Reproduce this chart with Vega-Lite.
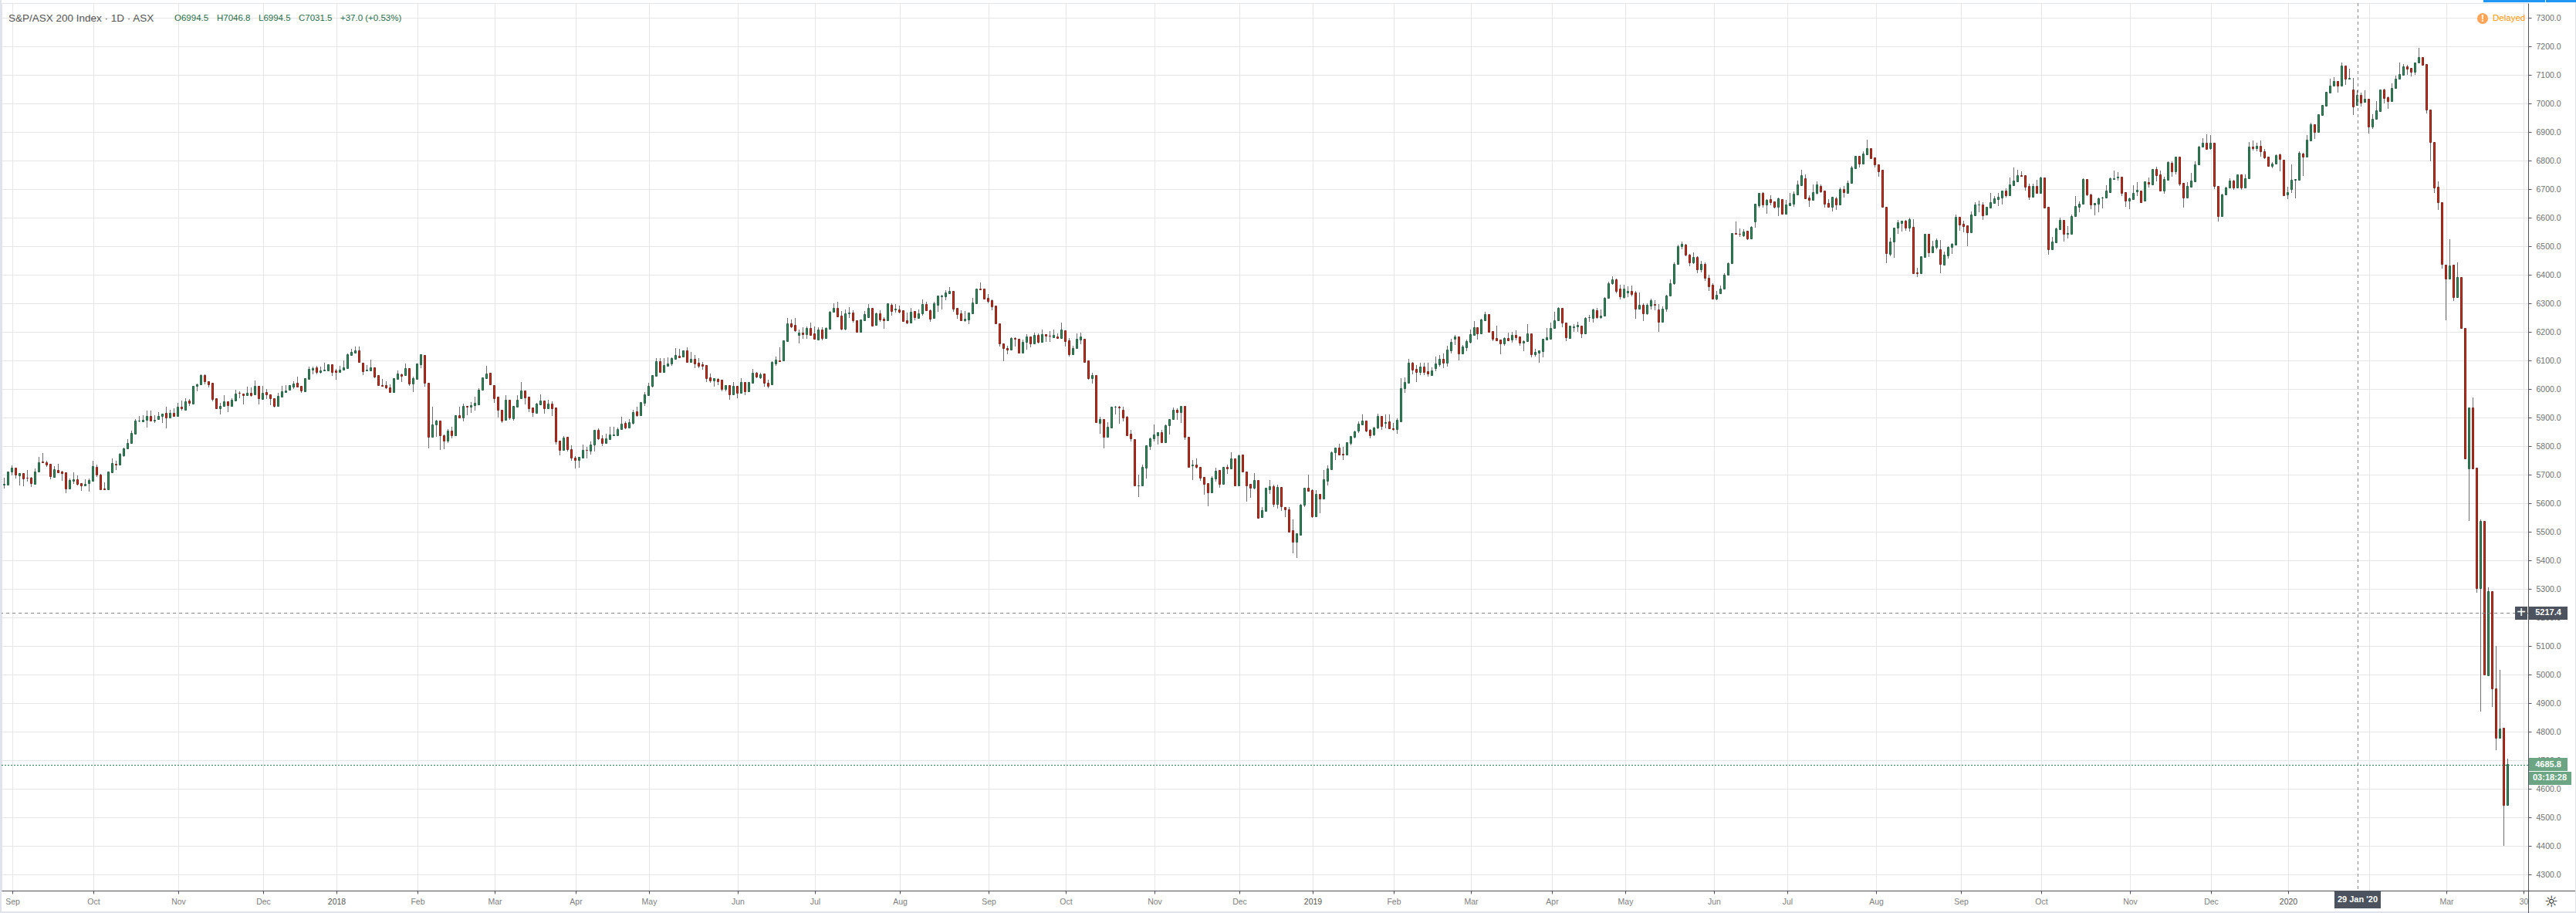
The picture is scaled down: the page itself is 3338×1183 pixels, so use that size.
{"$schema":"https://vega.github.io/schema/vega-lite/v6.json","autosize":{"type":"none"},"padding":{"left":2,"top":4,"right":62,"bottom":29},"width":3274,"height":1150,"background":"#ffffff","view":{"stroke":"#e0e3eb","fill":"#ffffff"},
"datasets":{"bars":[
{"i":0,"o":5667,"h":5690,"l":5653,"c":5668},{"i":1,"o":5667,"h":5713,"l":5667,"c":5713},{"i":2,"o":5712,"h":5733,"l":5697,"c":5724},{"i":3,"o":5724,"h":5724,"l":5687,"c":5702},{"i":4,"o":5699,"h":5705,"l":5663,"c":5705},{"i":5,"o":5705,"h":5705,"l":5660,"c":5688},{"i":6,"o":5690,"h":5717,"l":5677,"c":5689},{"i":7,"o":5689,"h":5692,"l":5658,"c":5672},{"i":8,"o":5669,"h":5722,"l":5667,"c":5712},{"i":9,"o":5711,"h":5763,"l":5711,"c":5743},
{"i":10,"o":5746,"h":5776,"l":5743,"c":5743},{"i":11,"o":5743,"h":5749,"l":5727,"c":5737},{"i":12,"o":5738,"h":5738,"l":5685,"c":5695},{"i":13,"o":5694,"h":5730,"l":5691,"c":5719},{"i":14,"o":5718,"h":5740,"l":5710,"c":5710},{"i":15,"o":5713,"h":5715,"l":5680,"c":5707},{"i":16,"o":5708,"h":5708,"l":5637,"c":5653},{"i":17,"o":5653,"h":5687,"l":5653,"c":5681},{"i":18,"o":5680,"h":5709,"l":5669,"c":5684},{"i":19,"o":5684,"h":5698,"l":5664,"c":5669},
{"i":20,"o":5670,"h":5670,"l":5645,"c":5664},{"i":21,"o":5662,"h":5685,"l":5661,"c":5668},{"i":22,"o":5670,"h":5687,"l":5642,"c":5681},{"i":23,"o":5680,"h":5749,"l":5677,"c":5730},{"i":24,"o":5727,"h":5736,"l":5692,"c":5700},{"i":25,"o":5700,"h":5703,"l":5650,"c":5650},{"i":26,"o":5651,"h":5674,"l":5649,"c":5650},{"i":27,"o":5650,"h":5712,"l":5650,"c":5711},{"i":28,"o":5710,"h":5757,"l":5707,"c":5741},{"i":29,"o":5738,"h":5750,"l":5717,"c":5737},
{"i":30,"o":5737,"h":5777,"l":5735,"c":5773},{"i":31,"o":5769,"h":5795,"l":5763,"c":5792},{"i":32,"o":5793,"h":5825,"l":5791,"c":5813},{"i":33,"o":5813,"h":5854,"l":5811,"c":5846},{"i":34,"o":5845,"h":5895,"l":5845,"c":5889},{"i":35,"o":5889,"h":5906,"l":5885,"c":5890},{"i":36,"o":5888,"h":5909,"l":5884,"c":5894},{"i":37,"o":5894,"h":5925,"l":5867,"c":5905},{"i":38,"o":5905,"h":5925,"l":5891,"c":5891},{"i":39,"o":5891,"h":5909,"l":5883,"c":5894},
{"i":40,"o":5896,"h":5920,"l":5894,"c":5905},{"i":41,"o":5905,"h":5915,"l":5882,"c":5915},{"i":42,"o":5916,"h":5939,"l":5862,"c":5902},{"i":43,"o":5902,"h":5927,"l":5902,"c":5918},{"i":44,"o":5918,"h":5932,"l":5905,"c":5907},{"i":45,"o":5907,"h":5952,"l":5905,"c":5938},{"i":46,"o":5938,"h":5960,"l":5926,"c":5932},{"i":47,"o":5929,"h":5968,"l":5929,"c":5957},{"i":48,"o":5959,"h":5965,"l":5942,"c":5953},{"i":49,"o":5950,"h":6013,"l":5950,"c":6011},
{"i":50,"o":6013,"h":6021,"l":5994,"c":6016},{"i":51,"o":6016,"h":6052,"l":6016,"c":6050},{"i":52,"o":6050,"h":6052,"l":6018,"c":6029},{"i":53,"o":6027,"h":6028,"l":6007,"c":6018},{"i":54,"o":6022,"h":6022,"l":5957,"c":5967},{"i":55,"o":5968,"h":5968,"l":5931,"c":5932},{"i":56,"o":5932,"h":5952,"l":5913,"c":5941},{"i":57,"o":5942,"h":5979,"l":5942,"c":5957},{"i":58,"o":5957,"h":5957,"l":5920,"c":5945},{"i":59,"o":5942,"h":5968,"l":5942,"c":5962},
{"i":60,"o":5961,"h":5998,"l":5960,"c":5984},{"i":61,"o":5987,"h":5992,"l":5968,"c":5986},{"i":62,"o":5984,"h":5984,"l":5947,"c":5980},{"i":63,"o":5979,"h":6009,"l":5977,"c":5987},{"i":64,"o":5987,"h":6005,"l":5974,"c":5980},{"i":65,"o":5983,"h":6030,"l":5983,"c":6011},{"i":66,"o":6011,"h":6011,"l":5947,"c":5969},{"i":67,"o":5967,"h":6012,"l":5967,"c":5987},{"i":68,"o":5989,"h":6000,"l":5967,"c":5983},{"i":69,"o":5983,"h":5983,"l":5943,"c":5969},
{"i":70,"o":5969,"h":5969,"l":5936,"c":5941},{"i":71,"o":5942,"h":5987,"l":5942,"c":5976},{"i":72,"o":5975,"h":6011,"l":5975,"c":5992},{"i":73,"o":5989,"h":6014,"l":5988,"c":5995},{"i":74,"o":5997,"h":6014,"l":5996,"c":6014},{"i":75,"o":6010,"h":6027,"l":6001,"c":6019},{"i":76,"o":6022,"h":6043,"l":6010,"c":6010},{"i":77,"o":6011,"h":6011,"l":5987,"c":5995},{"i":78,"o":5994,"h":6040,"l":5994,"c":6039},{"i":79,"o":6037,"h":6078,"l":6037,"c":6070},
{"i":80,"o":6069,"h":6080,"l":6052,"c":6073},{"i":81,"o":6076,"h":6082,"l":6052,"c":6059},{"i":82,"o":6059,"h":6080,"l":6056,"c":6067},{"i":83,"o":6067,"h":6092,"l":6066,"c":6068},{"i":84,"o":6066,"h":6087,"l":6065,"c":6086},{"i":85,"o":6086,"h":6088,"l":6047,"c":6060},{"i":86,"o":6065,"h":6072,"l":6034,"c":6060},{"i":87,"o":6059,"h":6082,"l":6059,"c":6068},{"i":88,"o":6069,"h":6100,"l":6068,"c":6076},{"i":89,"o":6075,"h":6124,"l":6074,"c":6122},
{"i":90,"o":6121,"h":6141,"l":6118,"c":6130},{"i":91,"o":6129,"h":6149,"l":6129,"c":6135},{"i":92,"o":6135,"h":6149,"l":6094,"c":6096},{"i":93,"o":6094,"h":6094,"l":6050,"c":6064},{"i":94,"o":6066,"h":6084,"l":6064,"c":6069},{"i":95,"o":6067,"h":6104,"l":6066,"c":6076},{"i":96,"o":6076,"h":6076,"l":6039,"c":6045},{"i":97,"o":6049,"h":6049,"l":6013,"c":6015},{"i":98,"o":6014,"h":6037,"l":6011,"c":6013},{"i":99,"o":6014,"h":6027,"l":6000,"c":6005},
{"i":100,"o":6006,"h":6016,"l":5988,"c":5991},{"i":101,"o":5991,"h":6039,"l":5991,"c":6038},{"i":102,"o":6035,"h":6066,"l":6035,"c":6054},{"i":103,"o":6053,"h":6055,"l":6026,"c":6048},{"i":104,"o":6049,"h":6090,"l":6049,"c":6073},{"i":105,"o":6073,"h":6073,"l":6013,"c":6021},{"i":106,"o":6021,"h":6043,"l":5991,"c":6038},{"i":107,"o":6037,"h":6090,"l":6036,"c":6089},{"i":108,"o":6088,"h":6122,"l":6075,"c":6122},{"i":109,"o":6119,"h":6119,"l":6008,"c":6023},
{"i":110,"o":6023,"h":6023,"l":5794,"c":5832},{"i":111,"o":5832,"h":5940,"l":5832,"c":5876},{"i":112,"o":5876,"h":5893,"l":5833,"c":5890},{"i":113,"o":5889,"h":5889,"l":5786,"c":5838},{"i":114,"o":5839,"h":5842,"l":5791,"c":5821},{"i":115,"o":5819,"h":5860,"l":5813,"c":5854},{"i":116,"o":5854,"h":5868,"l":5829,"c":5839},{"i":117,"o":5840,"h":5910,"l":5838,"c":5908},{"i":118,"o":5908,"h":5938,"l":5902,"c":5902},{"i":119,"o":5902,"h":5949,"l":5888,"c":5941},
{"i":120,"o":5941,"h":5941,"l":5910,"c":5940},{"i":121,"o":5940,"h":5955,"l":5917,"c":5943},{"i":122,"o":5943,"h":5973,"l":5925,"c":5951},{"i":123,"o":5948,"h":6003,"l":5948,"c":5998},{"i":124,"o":5997,"h":6041,"l":5997,"c":6041},{"i":125,"o":6040,"h":6081,"l":6040,"c":6055},{"i":126,"o":6057,"h":6057,"l":6014,"c":6016},{"i":127,"o":6014,"h":6014,"l":5953,"c":5969},{"i":128,"o":5973,"h":5973,"l":5901,"c":5929},{"i":129,"o":5927,"h":5927,"l":5883,"c":5890},
{"i":130,"o":5894,"h":5979,"l":5894,"c":5962},{"i":131,"o":5962,"h":5962,"l":5894,"c":5901},{"i":132,"o":5899,"h":5941,"l":5891,"c":5941},{"i":133,"o":5940,"h":5979,"l":5940,"c":5962},{"i":134,"o":5969,"h":6025,"l":5969,"c":5995},{"i":135,"o":5995,"h":5995,"l":5948,"c":5972},{"i":136,"o":5973,"h":5973,"l":5921,"c":5932},{"i":137,"o":5935,"h":5935,"l":5904,"c":5920},{"i":138,"o":5918,"h":5951,"l":5918,"c":5949},{"i":139,"o":5948,"h":5982,"l":5948,"c":5959},
{"i":140,"o":5959,"h":5959,"l":5914,"c":5934},{"i":141,"o":5934,"h":5963,"l":5934,"c":5949},{"i":142,"o":5949,"h":5957,"l":5906,"c":5934},{"i":143,"o":5935,"h":5935,"l":5805,"c":5818},{"i":144,"o":5819,"h":5819,"l":5769,"c":5788},{"i":145,"o":5788,"h":5835,"l":5788,"c":5830},{"i":146,"o":5832,"h":5832,"l":5781,"c":5789},{"i":147,"o":5789,"h":5803,"l":5750,"c":5759},{"i":148,"o":5760,"h":5765,"l":5723,"c":5751},{"i":149,"o":5751,"h":5762,"l":5726,"c":5762},
{"i":150,"o":5760,"h":5805,"l":5760,"c":5786},{"i":151,"o":5787,"h":5797,"l":5758,"c":5786},{"i":152,"o":5785,"h":5817,"l":5770,"c":5805},{"i":153,"o":5807,"h":5857,"l":5782,"c":5857},{"i":154,"o":5857,"h":5862,"l":5823,"c":5829},{"i":155,"o":5827,"h":5838,"l":5801,"c":5813},{"i":156,"o":5813,"h":5843,"l":5812,"c":5827},{"i":157,"o":5826,"h":5869,"l":5826,"c":5841},{"i":158,"o":5840,"h":5869,"l":5839,"c":5841},{"i":159,"o":5840,"h":5867,"l":5840,"c":5859},
{"i":160,"o":5859,"h":5904,"l":5859,"c":5878},{"i":161,"o":5881,"h":5887,"l":5861,"c":5866},{"i":162,"o":5867,"h":5896,"l":5867,"c":5884},{"i":163,"o":5883,"h":5928,"l":5877,"c":5919},{"i":164,"o":5922,"h":5939,"l":5904,"c":5910},{"i":165,"o":5910,"h":5954,"l":5905,"c":5954},{"i":166,"o":5951,"h":5989,"l":5942,"c":5981},{"i":167,"o":5979,"h":6023,"l":5977,"c":6013},{"i":168,"o":6013,"h":6049,"l":6007,"c":6049},{"i":169,"o":6048,"h":6109,"l":6048,"c":6097},
{"i":170,"o":6097,"h":6109,"l":6059,"c":6061},{"i":171,"o":6061,"h":6109,"l":6061,"c":6084},{"i":172,"o":6083,"h":6112,"l":6083,"c":6091},{"i":173,"o":6091,"h":6113,"l":6083,"c":6108},{"i":174,"o":6107,"h":6144,"l":6105,"c":6119},{"i":175,"o":6116,"h":6141,"l":6113,"c":6113},{"i":176,"o":6115,"h":6135,"l":6115,"c":6135},{"i":177,"o":6135,"h":6146,"l":6096,"c":6096},{"i":178,"o":6095,"h":6130,"l":6095,"c":6105},{"i":179,"o":6105,"h":6120,"l":6074,"c":6090},
{"i":180,"o":6092,"h":6108,"l":6074,"c":6083},{"i":181,"o":6086,"h":6095,"l":6068,"c":6083},{"i":182,"o":6084,"h":6084,"l":6025,"c":6039},{"i":183,"o":6041,"h":6055,"l":6023,"c":6031},{"i":184,"o":6031,"h":6038,"l":6010,"c":6038},{"i":185,"o":6035,"h":6039,"l":6015,"c":6029},{"i":186,"o":6032,"h":6032,"l":5994,"c":6001},{"i":187,"o":6001,"h":6014,"l":5994,"c":6014},{"i":188,"o":6014,"h":6014,"l":5964,"c":5983},{"i":189,"o":5983,"h":6025,"l":5983,"c":6011},
{"i":190,"o":6011,"h":6011,"l":5969,"c":5987},{"i":191,"o":5988,"h":6039,"l":5988,"c":6024},{"i":192,"o":6024,"h":6024,"l":5979,"c":5993},{"i":193,"o":5993,"h":6024,"l":5990,"c":6024},{"i":194,"o":6023,"h":6070,"l":6023,"c":6057},{"i":195,"o":6057,"h":6059,"l":6039,"c":6044},{"i":196,"o":6041,"h":6057,"l":6036,"c":6051},{"i":197,"o":6054,"h":6054,"l":6009,"c":6023},{"i":198,"o":6022,"h":6032,"l":6004,"c":6013},{"i":199,"o":6016,"h":6097,"l":6016,"c":6095},
{"i":200,"o":6091,"h":6114,"l":6083,"c":6103},{"i":201,"o":6102,"h":6147,"l":6099,"c":6099},{"i":202,"o":6100,"h":6170,"l":6100,"c":6170},{"i":203,"o":6169,"h":6249,"l":6169,"c":6230},{"i":204,"o":6230,"h":6244,"l":6215,"c":6221},{"i":205,"o":6224,"h":6249,"l":6202,"c":6207},{"i":206,"o":6191,"h":6209,"l":6159,"c":6197},{"i":207,"o":6197,"h":6217,"l":6177,"c":6194},{"i":208,"o":6194,"h":6219,"l":6177,"c":6214},{"i":209,"o":6214,"h":6233,"l":6191,"c":6191},
{"i":210,"o":6195,"h":6220,"l":6177,"c":6177},{"i":211,"o":6175,"h":6217,"l":6175,"c":6208},{"i":212,"o":6208,"h":6216,"l":6172,"c":6180},{"i":213,"o":6180,"h":6216,"l":6177,"c":6214},{"i":214,"o":6213,"h":6274,"l":6213,"c":6271},{"i":215,"o":6270,"h":6300,"l":6270,"c":6284},{"i":216,"o":6284,"h":6306,"l":6256,"c":6256},{"i":217,"o":6257,"h":6273,"l":6207,"c":6213},{"i":218,"o":6213,"h":6279,"l":6207,"c":6265},{"i":219,"o":6267,"h":6287,"l":6250,"c":6268},
{"i":220,"o":6268,"h":6276,"l":6234,"c":6241},{"i":221,"o":6241,"h":6241,"l":6199,"c":6201},{"i":222,"o":6202,"h":6243,"l":6202,"c":6243},{"i":223,"o":6242,"h":6273,"l":6242,"c":6262},{"i":224,"o":6253,"h":6298,"l":6253,"c":6284},{"i":225,"o":6284,"h":6284,"l":6220,"c":6222},{"i":226,"o":6226,"h":6268,"l":6226,"c":6266},{"i":227,"o":6266,"h":6277,"l":6236,"c":6245},{"i":228,"o":6246,"h":6252,"l":6212,"c":6242},{"i":229,"o":6242,"h":6300,"l":6242,"c":6300},
{"i":230,"o":6296,"h":6300,"l":6258,"c":6275},{"i":231,"o":6278,"h":6298,"l":6268,"c":6281},{"i":232,"o":6278,"h":6293,"l":6266,"c":6272},{"i":233,"o":6276,"h":6276,"l":6236,"c":6239},{"i":234,"o":6241,"h":6268,"l":6228,"c":6234},{"i":235,"o":6232,"h":6284,"l":6232,"c":6270},{"i":236,"o":6273,"h":6273,"l":6241,"c":6253},{"i":237,"o":6250,"h":6279,"l":6250,"c":6265},{"i":238,"o":6267,"h":6314,"l":6258,"c":6297},{"i":239,"o":6297,"h":6306,"l":6275,"c":6277},
{"i":240,"o":6277,"h":6279,"l":6236,"c":6248},{"i":241,"o":6250,"h":6306,"l":6248,"c":6300},{"i":242,"o":6296,"h":6329,"l":6271,"c":6327},{"i":243,"o":6326,"h":6331,"l":6280,"c":6327},{"i":244,"o":6326,"h":6347,"l":6313,"c":6338},{"i":245,"o":6337,"h":6358,"l":6337,"c":6343},{"i":246,"o":6343,"h":6343,"l":6271,"c":6283},{"i":247,"o":6284,"h":6284,"l":6248,"c":6264},{"i":248,"o":6266,"h":6277,"l":6242,"c":6242},{"i":249,"o":6242,"h":6274,"l":6237,"c":6246},
{"i":250,"o":6245,"h":6269,"l":6228,"c":6268},{"i":251,"o":6267,"h":6319,"l":6267,"c":6303},{"i":252,"o":6302,"h":6351,"l":6302,"c":6351},{"i":253,"o":6351,"h":6374,"l":6349,"c":6350},{"i":254,"o":6352,"h":6353,"l":6318,"c":6318},{"i":255,"o":6319,"h":6332,"l":6300,"c":6310},{"i":256,"o":6311,"h":6314,"l":6276,"c":6291},{"i":257,"o":6292,"h":6292,"l":6229,"c":6230},{"i":258,"o":6230,"h":6230,"l":6150,"c":6159},{"i":259,"o":6159,"h":6159,"l":6099,"c":6143},
{"i":260,"o":6143,"h":6153,"l":6122,"c":6140},{"i":261,"o":6140,"h":6181,"l":6138,"c":6178},{"i":262,"o":6178,"h":6181,"l":6150,"c":6176},{"i":263,"o":6176,"h":6176,"l":6127,"c":6129},{"i":264,"o":6127,"h":6174,"l":6127,"c":6165},{"i":265,"o":6165,"h":6192,"l":6140,"c":6184},{"i":266,"o":6184,"h":6184,"l":6148,"c":6159},{"i":267,"o":6159,"h":6198,"l":6159,"c":6189},{"i":268,"o":6189,"h":6195,"l":6161,"c":6167},{"i":269,"o":6167,"h":6208,"l":6167,"c":6192},
{"i":270,"o":6194,"h":6194,"l":6167,"c":6186},{"i":271,"o":6187,"h":6203,"l":6167,"c":6186},{"i":272,"o":6183,"h":6208,"l":6181,"c":6189},{"i":273,"o":6184,"h":6195,"l":6178,"c":6180},{"i":274,"o":6180,"h":6233,"l":6177,"c":6208},{"i":275,"o":6205,"h":6205,"l":6150,"c":6169},{"i":276,"o":6170,"h":6178,"l":6115,"c":6123},{"i":277,"o":6123,"h":6151,"l":6123,"c":6143},{"i":278,"o":6145,"h":6195,"l":6145,"c":6176},{"i":279,"o":6175,"h":6198,"l":6158,"c":6184},
{"i":280,"o":6176,"h":6176,"l":6096,"c":6096},{"i":281,"o":6100,"h":6100,"l":6032,"c":6040},{"i":282,"o":6040,"h":6057,"l":6021,"c":6049},{"i":283,"o":6049,"h":6049,"l":5884,"c":5884},{"i":284,"o":5883,"h":5903,"l":5845,"c":5895},{"i":285,"o":5895,"h":5895,"l":5794,"c":5834},{"i":286,"o":5834,"h":5885,"l":5834,"c":5868},{"i":287,"o":5867,"h":5938,"l":5867,"c":5938},{"i":288,"o":5939,"h":5942,"l":5913,"c":5940},{"i":289,"o":5940,"h":5942,"l":5879,"c":5937},
{"i":290,"o":5927,"h":5939,"l":5886,"c":5902},{"i":291,"o":5903,"h":5905,"l":5840,"c":5840},{"i":292,"o":5843,"h":5857,"l":5817,"c":5829},{"i":293,"o":5826,"h":5826,"l":5662,"c":5662},{"i":294,"o":5662,"h":5701,"l":5623,"c":5663},{"i":295,"o":5663,"h":5736,"l":5663,"c":5727},{"i":296,"o":5726,"h":5803,"l":5687,"c":5803},{"i":297,"o":5802,"h":5830,"l":5788,"c":5827},{"i":298,"o":5829,"h":5877,"l":5817,"c":5841},{"i":299,"o":5840,"h":5849,"l":5807,"c":5849},
{"i":300,"o":5849,"h":5857,"l":5815,"c":5815},{"i":301,"o":5815,"h":5876,"l":5815,"c":5873},{"i":302,"o":5873,"h":5895,"l":5842,"c":5895},{"i":303,"o":5895,"h":5935,"l":5895,"c":5927},{"i":304,"o":5927,"h":5933,"l":5893,"c":5921},{"i":305,"o":5921,"h":5941,"l":5882,"c":5941},{"i":306,"o":5941,"h":5941,"l":5823,"c":5832},{"i":307,"o":5832,"h":5832,"l":5726,"c":5728},{"i":308,"o":5732,"h":5752,"l":5682,"c":5735},{"i":309,"o":5735,"h":5758,"l":5723,"c":5729},
{"i":310,"o":5729,"h":5729,"l":5679,"c":5691},{"i":311,"o":5692,"h":5692,"l":5631,"c":5669},{"i":312,"o":5670,"h":5670,"l":5591,"c":5640},{"i":313,"o":5640,"h":5695,"l":5640,"c":5689},{"i":314,"o":5687,"h":5725,"l":5677,"c":5714},{"i":315,"o":5716,"h":5716,"l":5655,"c":5669},{"i":316,"o":5669,"h":5727,"l":5669,"c":5727},{"i":317,"o":5727,"h":5736,"l":5704,"c":5723},{"i":318,"o":5723,"h":5779,"l":5723,"c":5757},{"i":319,"o":5757,"h":5757,"l":5664,"c":5664},
{"i":320,"o":5664,"h":5771,"l":5664,"c":5768},{"i":321,"o":5770,"h":5770,"l":5713,"c":5713},{"i":322,"o":5711,"h":5711,"l":5606,"c":5664},{"i":323,"o":5668,"h":5668,"l":5620,"c":5656},{"i":324,"o":5655,"h":5706,"l":5650,"c":5681},{"i":325,"o":5681,"h":5681,"l":5548,"c":5550},{"i":326,"o":5552,"h":5587,"l":5550,"c":5576},{"i":327,"o":5575,"h":5654,"l":5575,"c":5654},{"i":328,"o":5650,"h":5682,"l":5633,"c":5659},{"i":329,"o":5659,"h":5665,"l":5588,"c":5599},
{"i":330,"o":5599,"h":5665,"l":5582,"c":5657},{"i":331,"o":5657,"h":5657,"l":5575,"c":5589},{"i":332,"o":5588,"h":5588,"l":5552,"c":5580},{"i":333,"o":5578,"h":5586,"l":5502,"c":5502},{"i":334,"o":5505,"h":5544,"l":5426,"c":5466},{"i":335,"o":5467,"h":5495,"l":5408,"c":5495},{"i":336,"o":5491,"h":5597,"l":5491,"c":5595},{"i":337,"o":5596,"h":5654,"l":5588,"c":5654},{"i":338,"o":5654,"h":5701,"l":5645,"c":5645},{"i":339,"o":5646,"h":5650,"l":5550,"c":5556},
{"i":340,"o":5556,"h":5646,"l":5556,"c":5632},{"i":341,"o":5632,"h":5632,"l":5566,"c":5618},{"i":342,"o":5618,"h":5717,"l":5618,"c":5684},{"i":343,"o":5680,"h":5733,"l":5664,"c":5722},{"i":344,"o":5721,"h":5782,"l":5721,"c":5778},{"i":345,"o":5778,"h":5795,"l":5752,"c":5795},{"i":346,"o":5795,"h":5808,"l":5772,"c":5772},{"i":347,"o":5773,"h":5799,"l":5752,"c":5772},{"i":348,"o":5771,"h":5815,"l":5771,"c":5814},{"i":349,"o":5813,"h":5835,"l":5804,"c":5835},
{"i":350,"o":5834,"h":5856,"l":5829,"c":5851},{"i":351,"o":5856,"h":5887,"l":5847,"c":5878},{"i":352,"o":5877,"h":5912,"l":5877,"c":5889},{"i":353,"o":5889,"h":5889,"l":5850,"c":5856},{"i":354,"o":5857,"h":5860,"l":5828,"c":5840},{"i":355,"o":5841,"h":5868,"l":5836,"c":5865},{"i":356,"o":5865,"h":5914,"l":5861,"c":5905},{"i":357,"o":5905,"h":5905,"l":5858,"c":5872},{"i":358,"o":5883,"h":5912,"l":5863,"c":5884},{"i":359,"o":5886,"h":5912,"l":5860,"c":5863},
{"i":360,"o":5862,"h":5882,"l":5855,"c":5859},{"i":361,"o":5861,"h":5897,"l":5845,"c":5892},{"i":362,"o":5888,"h":6039,"l":5888,"c":6003},{"i":363,"o":6004,"h":6041,"l":5987,"c":6024},{"i":364,"o":6023,"h":6106,"l":6023,"c":6092},{"i":365,"o":6092,"h":6095,"l":6052,"c":6069},{"i":366,"o":6070,"h":6084,"l":6025,"c":6059},{"i":367,"o":6059,"h":6093,"l":6050,"c":6078},{"i":368,"o":6078,"h":6093,"l":6050,"c":6061},{"i":369,"o":6062,"h":6093,"l":6044,"c":6056},
{"i":370,"o":6050,"h":6076,"l":6047,"c":6065},{"i":371,"o":6074,"h":6114,"l":6063,"c":6089},{"i":372,"o":6088,"h":6120,"l":6079,"c":6105},{"i":373,"o":6105,"h":6125,"l":6074,"c":6093},{"i":374,"o":6094,"h":6151,"l":6079,"c":6138},{"i":375,"o":6136,"h":6176,"l":6125,"c":6165},{"i":376,"o":6177,"h":6189,"l":6156,"c":6184},{"i":377,"o":6184,"h":6184,"l":6101,"c":6125},{"i":378,"o":6124,"h":6154,"l":6122,"c":6149},{"i":379,"o":6148,"h":6173,"l":6133,"c":6168},
{"i":380,"o":6167,"h":6208,"l":6161,"c":6192},{"i":381,"o":6191,"h":6238,"l":6188,"c":6216},{"i":382,"o":6216,"h":6216,"l":6174,"c":6196},{"i":383,"o":6196,"h":6246,"l":6196,"c":6244},{"i":384,"o":6242,"h":6270,"l":6242,"c":6262},{"i":385,"o":6262,"h":6262,"l":6202,"c":6202},{"i":386,"o":6203,"h":6203,"l":6168,"c":6177},{"i":387,"o":6178,"h":6222,"l":6172,"c":6172},{"i":388,"o":6173,"h":6173,"l":6123,"c":6159},{"i":389,"o":6159,"h":6181,"l":6152,"c":6178},
{"i":390,"o":6178,"h":6197,"l":6169,"c":6171},{"i":391,"o":6173,"h":6201,"l":6163,"c":6189},{"i":392,"o":6189,"h":6206,"l":6171,"c":6183},{"i":393,"o":6184,"h":6184,"l":6152,"c":6164},{"i":394,"o":6164,"h":6171,"l":6132,"c":6168},{"i":395,"o":6168,"h":6228,"l":6167,"c":6195},{"i":396,"o":6195,"h":6195,"l":6113,"c":6123},{"i":397,"o":6123,"h":6142,"l":6115,"c":6130},{"i":398,"o":6129,"h":6135,"l":6094,"c":6135},{"i":399,"o":6134,"h":6176,"l":6113,"c":6176},
{"i":400,"o":6175,"h":6214,"l":6175,"c":6181},{"i":401,"o":6177,"h":6233,"l":6177,"c":6214},{"i":402,"o":6215,"h":6271,"l":6215,"c":6241},{"i":403,"o":6241,"h":6287,"l":6241,"c":6284},{"i":404,"o":6284,"h":6284,"l":6218,"c":6232},{"i":405,"o":6233,"h":6233,"l":6168,"c":6181},{"i":406,"o":6179,"h":6222,"l":6177,"c":6222},{"i":407,"o":6218,"h":6228,"l":6201,"c":6219},{"i":408,"o":6219,"h":6236,"l":6201,"c":6224},{"i":409,"o":6222,"h":6222,"l":6179,"c":6196},
{"i":410,"o":6196,"h":6251,"l":6196,"c":6249},{"i":411,"o":6251,"h":6260,"l":6236,"c":6252},{"i":412,"o":6250,"h":6282,"l":6233,"c":6279},{"i":413,"o":6276,"h":6284,"l":6247,"c":6251},{"i":414,"o":6252,"h":6278,"l":6246,"c":6257},{"i":415,"o":6258,"h":6322,"l":6258,"c":6320},{"i":416,"o":6319,"h":6376,"l":6319,"c":6372},{"i":417,"o":6372,"h":6395,"l":6365,"c":6384},{"i":418,"o":6384,"h":6386,"l":6335,"c":6345},{"i":419,"o":6352,"h":6365,"l":6315,"c":6324},
{"i":420,"o":6323,"h":6365,"l":6318,"c":6352},{"i":421,"o":6340,"h":6360,"l":6323,"c":6345},{"i":422,"o":6345,"h":6362,"l":6325,"c":6334},{"i":423,"o":6340,"h":6345,"l":6248,"c":6283},{"i":424,"o":6282,"h":6339,"l":6279,"c":6295},{"i":425,"o":6295,"h":6300,"l":6240,"c":6267},{"i":426,"o":6267,"h":6300,"l":6259,"c":6295},{"i":427,"o":6294,"h":6317,"l":6279,"c":6311},{"i":428,"o":6298,"h":6311,"l":6277,"c":6296},{"i":429,"o":6278,"h":6298,"l":6201,"c":6237},
{"i":430,"o":6237,"h":6289,"l":6237,"c":6281},{"i":431,"o":6282,"h":6330,"l":6272,"c":6327},{"i":432,"o":6327,"h":6385,"l":6327,"c":6372},{"i":433,"o":6372,"h":6445,"l":6365,"c":6440},{"i":434,"o":6440,"h":6505,"l":6435,"c":6500},{"i":435,"o":6500,"h":6518,"l":6490,"c":6510},{"i":436,"o":6505,"h":6510,"l":6465,"c":6470},{"i":437,"o":6470,"h":6475,"l":6430,"c":6445},{"i":438,"o":6445,"h":6480,"l":6440,"c":6462},{"i":439,"o":6462,"h":6465,"l":6405,"c":6420},
{"i":440,"o":6420,"h":6450,"l":6410,"c":6440},{"i":441,"o":6440,"h":6445,"l":6380,"c":6390},{"i":442,"o":6390,"h":6400,"l":6345,"c":6360},{"i":443,"o":6365,"h":6370,"l":6318,"c":6318},{"i":444,"o":6318,"h":6345,"l":6311,"c":6330},{"i":445,"o":6337,"h":6362,"l":6335,"c":6352},{"i":446,"o":6352,"h":6405,"l":6350,"c":6400},{"i":447,"o":6400,"h":6445,"l":6398,"c":6441},{"i":448,"o":6441,"h":6546,"l":6441,"c":6546},{"i":449,"o":6546,"h":6587,"l":6543,"c":6543},
{"i":450,"o":6544,"h":6563,"l":6532,"c":6543},{"i":451,"o":6540,"h":6560,"l":6532,"c":6551},{"i":452,"o":6554,"h":6554,"l":6523,"c":6529},{"i":453,"o":6528,"h":6570,"l":6526,"c":6568},{"i":454,"o":6586,"h":6649,"l":6566,"c":6649},{"i":455,"o":6645,"h":6688,"l":6636,"c":6686},{"i":456,"o":6686,"h":6690,"l":6636,"c":6648},{"i":457,"o":6648,"h":6665,"l":6615,"c":6662},{"i":458,"o":6665,"h":6678,"l":6644,"c":6656},{"i":459,"o":6657,"h":6657,"l":6633,"c":6640},
{"i":460,"o":6640,"h":6670,"l":6605,"c":6668},{"i":461,"o":6665,"h":6665,"l":6615,"c":6615},{"i":462,"o":6615,"h":6663,"l":6615,"c":6646},{"i":463,"o":6645,"h":6687,"l":6642,"c":6651},{"i":464,"o":6650,"h":6692,"l":6640,"c":6684},{"i":465,"o":6683,"h":6731,"l":6683,"c":6716},{"i":466,"o":6714,"h":6768,"l":6713,"c":6749},{"i":467,"o":6738,"h":6752,"l":6669,"c":6669},{"i":468,"o":6670,"h":6678,"l":6640,"c":6664},{"i":469,"o":6664,"h":6718,"l":6664,"c":6689},
{"i":470,"o":6687,"h":6728,"l":6683,"c":6716},{"i":471,"o":6713,"h":6716,"l":6686,"c":6694},{"i":472,"o":6695,"h":6695,"l":6637,"c":6650},{"i":473,"o":6651,"h":6667,"l":6640,"c":6640},{"i":474,"o":6640,"h":6675,"l":6623,"c":6673},{"i":475,"o":6668,"h":6673,"l":6629,"c":6648},{"i":476,"o":6646,"h":6706,"l":6646,"c":6700},{"i":477,"o":6700,"h":6712,"l":6671,"c":6691},{"i":478,"o":6687,"h":6730,"l":6686,"c":6722},{"i":479,"o":6723,"h":6782,"l":6722,"c":6776},
{"i":480,"o":6773,"h":6816,"l":6770,"c":6816},{"i":481,"o":6816,"h":6816,"l":6777,"c":6791},{"i":482,"o":6791,"h":6832,"l":6791,"c":6824},{"i":483,"o":6823,"h":6874,"l":6823,"c":6843},{"i":484,"o":6843,"h":6843,"l":6810,"c":6810},{"i":485,"o":6811,"h":6811,"l":6777,"c":6786},{"i":486,"o":6786,"h":6786,"l":6744,"c":6764},{"i":487,"o":6768,"h":6768,"l":6636,"c":6639},{"i":488,"o":6638,"h":6638,"l":6441,"c":6476},{"i":489,"o":6475,"h":6530,"l":6466,"c":6516},
{"i":490,"o":6518,"h":6567,"l":6460,"c":6567},{"i":491,"o":6567,"h":6592,"l":6543,"c":6584},{"i":492,"o":6583,"h":6589,"l":6552,"c":6589},{"i":493,"o":6589,"h":6592,"l":6555,"c":6567},{"i":494,"o":6567,"h":6600,"l":6552,"c":6595},{"i":495,"o":6568,"h":6595,"l":6404,"c":6406},{"i":496,"o":6408,"h":6425,"l":6393,"c":6405},{"i":497,"o":6405,"h":6467,"l":6405,"c":6467},{"i":498,"o":6464,"h":6543,"l":6464,"c":6543},{"i":499,"o":6543,"h":6543,"l":6464,"c":6480},
{"i":500,"o":6480,"h":6520,"l":6480,"c":6500},{"i":501,"o":6498,"h":6528,"l":6489,"c":6522},{"i":502,"o":6489,"h":6523,"l":6406,"c":6440},{"i":503,"o":6437,"h":6481,"l":6437,"c":6470},{"i":504,"o":6468,"h":6502,"l":6458,"c":6497},{"i":505,"o":6499,"h":6512,"l":6475,"c":6508},{"i":506,"o":6505,"h":6612,"l":6505,"c":6603},{"i":507,"o":6603,"h":6603,"l":6555,"c":6577},{"i":508,"o":6578,"h":6590,"l":6550,"c":6572},{"i":509,"o":6573,"h":6573,"l":6501,"c":6550},
{"i":510,"o":6550,"h":6623,"l":6548,"c":6611},{"i":511,"o":6610,"h":6655,"l":6610,"c":6646},{"i":512,"o":6646,"h":6660,"l":6619,"c":6647},{"i":513,"o":6646,"h":6655,"l":6594,"c":6610},{"i":514,"o":6613,"h":6638,"l":6613,"c":6638},{"i":515,"o":6637,"h":6687,"l":6637,"c":6654},{"i":516,"o":6653,"h":6676,"l":6653,"c":6668},{"i":517,"o":6667,"h":6687,"l":6642,"c":6673},{"i":518,"o":6672,"h":6695,"l":6647,"c":6695},{"i":519,"o":6695,"h":6704,"l":6671,"c":6680},
{"i":520,"o":6680,"h":6741,"l":6677,"c":6716},{"i":521,"o":6715,"h":6777,"l":6715,"c":6730},{"i":522,"o":6729,"h":6768,"l":6725,"c":6749},{"i":523,"o":6749,"h":6762,"l":6743,"c":6748},{"i":524,"o":6749,"h":6749,"l":6695,"c":6710},{"i":525,"o":6713,"h":6719,"l":6663,"c":6675},{"i":526,"o":6675,"h":6719,"l":6675,"c":6713},{"i":527,"o":6713,"h":6732,"l":6686,"c":6686},{"i":528,"o":6686,"h":6743,"l":6686,"c":6741},{"i":529,"o":6741,"h":6741,"l":6637,"c":6637},
{"i":530,"o":6638,"h":6638,"l":6471,"c":6491},{"i":531,"o":6491,"h":6532,"l":6489,"c":6516},{"i":532,"o":6515,"h":6566,"l":6515,"c":6563},{"i":533,"o":6561,"h":6601,"l":6561,"c":6592},{"i":534,"o":6592,"h":6592,"l":6517,"c":6545},{"i":535,"o":6545,"h":6570,"l":6528,"c":6546},{"i":536,"o":6545,"h":6613,"l":6545,"c":6605},{"i":537,"o":6605,"h":6677,"l":6605,"c":6641},{"i":538,"o":6640,"h":6657,"l":6620,"c":6649},{"i":539,"o":6650,"h":6739,"l":6650,"c":6736},
{"i":540,"o":6735,"h":6735,"l":6677,"c":6682},{"i":541,"o":6681,"h":6684,"l":6631,"c":6648},{"i":542,"o":6648,"h":6651,"l":6609,"c":6651},{"i":543,"o":6650,"h":6672,"l":6620,"c":6669},{"i":544,"o":6670,"h":6675,"l":6633,"c":6671},{"i":545,"o":6671,"h":6714,"l":6671,"c":6695},{"i":546,"o":6691,"h":6741,"l":6691,"c":6738},{"i":547,"o":6737,"h":6766,"l":6736,"c":6738},{"i":548,"o":6742,"h":6760,"l":6731,"c":6743},{"i":549,"o":6743,"h":6743,"l":6676,"c":6686},
{"i":550,"o":6689,"h":6689,"l":6639,"c":6661},{"i":551,"o":6661,"h":6670,"l":6631,"c":6668},{"i":552,"o":6667,"h":6714,"l":6667,"c":6686},{"i":553,"o":6693,"h":6726,"l":6676,"c":6697},{"i":554,"o":6695,"h":6695,"l":6656,"c":6656},{"i":555,"o":6659,"h":6727,"l":6659,"c":6727},{"i":556,"o":6724,"h":6741,"l":6705,"c":6720},{"i":557,"o":6716,"h":6770,"l":6716,"c":6770},{"i":558,"o":6770,"h":6779,"l":6728,"c":6750},{"i":559,"o":6751,"h":6766,"l":6695,"c":6695},
{"i":560,"o":6696,"h":6745,"l":6685,"c":6735},{"i":561,"o":6732,"h":6797,"l":6730,"c":6795},{"i":562,"o":6792,"h":6798,"l":6744,"c":6764},{"i":563,"o":6764,"h":6814,"l":6752,"c":6814},{"i":564,"o":6814,"h":6814,"l":6712,"c":6721},{"i":565,"o":6722,"h":6722,"l":6636,"c":6672},{"i":566,"o":6672,"h":6725,"l":6672,"c":6711},{"i":567,"o":6710,"h":6758,"l":6710,"c":6730},{"i":568,"o":6729,"h":6799,"l":6729,"c":6786},{"i":569,"o":6786,"h":6852,"l":6786,"c":6849},
{"i":570,"o":6849,"h":6879,"l":6849,"c":6862},{"i":571,"o":6862,"h":6893,"l":6842,"c":6842},{"i":572,"o":6845,"h":6890,"l":6840,"c":6862},{"i":573,"o":6862,"h":6862,"l":6701,"c":6713},{"i":574,"o":6711,"h":6711,"l":6588,"c":6605},{"i":575,"o":6605,"h":6684,"l":6605,"c":6681},{"i":576,"o":6681,"h":6708,"l":6681,"c":6705},{"i":577,"o":6705,"h":6738,"l":6705,"c":6730},{"i":578,"o":6730,"h":6732,"l":6699,"c":6705},{"i":579,"o":6705,"h":6751,"l":6705,"c":6751},
{"i":580,"o":6751,"h":6751,"l":6699,"c":6707},{"i":581,"o":6707,"h":6751,"l":6707,"c":6738},{"i":582,"o":6740,"h":6866,"l":6740,"c":6849},{"i":583,"o":6849,"h":6871,"l":6837,"c":6845},{"i":584,"o":6845,"h":6863,"l":6832,"c":6851},{"i":585,"o":6851,"h":6871,"l":6815,"c":6832},{"i":586,"o":6832,"h":6841,"l":6805,"c":6813},{"i":587,"o":6815,"h":6815,"l":6783,"c":6783},{"i":588,"o":6783,"h":6795,"l":6775,"c":6791},{"i":589,"o":6791,"h":6822,"l":6791,"c":6819},
{"i":590,"o":6822,"h":6825,"l":6764,"c":6805},{"i":591,"o":6803,"h":6803,"l":6680,"c":6680},{"i":592,"o":6683,"h":6709,"l":6666,"c":6689},{"i":593,"o":6702,"h":6787,"l":6687,"c":6732},{"i":594,"o":6732,"h":6737,"l":6668,"c":6736},{"i":595,"o":6734,"h":6832,"l":6734,"c":6827},{"i":596,"o":6824,"h":6829,"l":6747,"c":6815},{"i":597,"o":6815,"h":6890,"l":6815,"c":6873},{"i":598,"o":6872,"h":6932,"l":6872,"c":6927},{"i":599,"o":6927,"h":6927,"l":6877,"c":6902},
{"i":600,"o":6902,"h":6962,"l":6902,"c":6962},{"i":601,"o":6960,"h":6995,"l":6958,"c":6995},{"i":602,"o":6994,"h":7041,"l":6994,"c":7041},{"i":603,"o":7040,"h":7087,"l":7040,"c":7062},{"i":604,"o":7062,"h":7093,"l":7062,"c":7078},{"i":605,"o":7078,"h":7078,"l":7039,"c":7064},{"i":606,"o":7064,"h":7144,"l":7059,"c":7132},{"i":607,"o":7132,"h":7132,"l":7066,"c":7086},{"i":608,"o":7086,"h":7122,"l":7084,"c":7089},{"i":609,"o":7049,"h":7090,"l":6960,"c":6991},
{"i":610,"o":6994.5,"h":7046.8,"l":6994.5,"c":7031.5},{"i":611,"o":7030,"h":7038,"l":6991,"c":7004},{"i":612,"o":7007,"h":7046,"l":7007,"c":7016},{"i":613,"o":7016,"h":7016,"l":6896,"c":6921},{"i":614,"o":6921,"h":6963,"l":6912,"c":6946},{"i":615,"o":6948,"h":7009,"l":6948,"c":6976},{"i":616,"o":6975,"h":7049,"l":6975,"c":7049},{"i":617,"o":7049,"h":7052,"l":7000,"c":7021},{"i":618,"o":7022,"h":7024,"l":6982,"c":7010},{"i":619,"o":7010,"h":7070,"l":7010,"c":7054},
{"i":620,"o":7054,"h":7097,"l":7054,"c":7086},{"i":621,"o":7086,"h":7144,"l":7084,"c":7103},{"i":622,"o":7102,"h":7139,"l":7100,"c":7130},{"i":623,"o":7130,"h":7136,"l":7102,"c":7123},{"i":624,"o":7124,"h":7124,"l":7096,"c":7113},{"i":625,"o":7113,"h":7143,"l":7102,"c":7143},{"i":626,"o":7143,"h":7195,"l":7143,"c":7162},{"i":627,"o":7162,"h":7162,"l":7134,"c":7137},{"i":628,"o":7138,"h":7138,"l":6967,"c":6978},{"i":629,"o":6978,"h":6978,"l":6799,"c":6867},
{"i":630,"o":6865,"h":6865,"l":6687,"c":6705},{"i":631,"o":6708,"h":6727,"l":6629,"c":6656},{"i":632,"o":6656,"h":6656,"l":6423,"c":6438},{"i":633,"o":6436.5,"h":6436.5,"l":6241.5,"c":6387},{"i":634,"o":6387,"h":6524,"l":6387,"c":6432},{"i":635,"o":6435,"h":6435,"l":6309,"c":6323},{"i":636,"o":6323,"h":6445,"l":6323,"c":6394},{"i":637,"o":6394,"h":6394,"l":6214,"c":6214},{"i":638,"o":6214,"h":6214,"l":5758,"c":5758},{"i":639,"o":5722,"h":5936,"l":5540,"c":5936},
{"i":640,"o":5936,"h":5970,"l":5722,"c":5722},{"i":641,"o":5725,"h":5725,"l":5288,"c":5303},{"i":642,"o":5303,"h":5545,"l":4872,"c":5540},{"i":643,"o":5540,"h":5540,"l":5000,"c":5000},{"i":644,"o":4998,"h":5305,"l":4998,"c":5293},{"i":645,"o":5293,"h":5293,"l":4886,"c":4951},{"i":646,"o":4952,"h":5101,"l":4737,"c":4780},{"i":647,"o":4780,"h":5017,"l":4780,"c":4813},{"i":648,"o":4815,"h":4815,"l":4400,"c":4545},{"i":649,"o":4545,"h":4705,"l":4545,"c":4686}
]},
"layer":[
{"data":{"values":[{"a":-1.04,"b":-0.64,"v":7363,"w":4165.6,"c":"#e0e3eb"},{"a":-1.04,"b":667.1,"v":4171,"w":4165.6,"c":"#e0e3eb"},{"a":666.7,"b":667.1,"v":7363,"w":4165.6,"c":"#e0e3eb"},{"a":642.8,"b":658.8,"v":7363,"w":7354.9,"c":"#2196f3"},{"a":659,"b":667.1,"v":7363,"w":7354.9,"c":"#2196f3"}]},"mark":{"type":"rect"},"encoding":{
"x":{"field":"a","type":"quantitative","scale":{"domain":[-0.64,654.4],"nice":false,"zero":false,"padding":0,"round":true}},"x2":{"field":"b"},
"y":{"field":"v","type":"quantitative","scale":{"domain":[4244.1,7352.2],"nice":false,"zero":false,"round":true}},"y2":{"field":"w"},
"fill":{"field":"c","type":"nominal","scale":null}}},
{"data":{"name":"bars"},"mark":{"type":"rule","color":"#6e6e6e","strokeWidth":1,"xOffset":0.5},"encoding":{
"x":{"field":"i","type":"quantitative","title":null,"scale":{"domain":[-0.64,654.4],"nice":false,"zero":false,"padding":0,"round":true},"axis":{"values":[2.25,23.25,45.25,67.25,86.25,107.25,127.25,148.25,167.25,190.25,210.25,232.25,255.25,275.25,298.25,320.25,339.25,360.25,380.25,401.25,420.25,443.25,462.25,485.25,507.25,528.25,551.25,572.25,592.25,613.25,633.25,653.25],"tickCount":60,"labelExpr":"['Sep','Oct','Nov','Dec','2018','Feb','Mar','Apr','May','Jun','Jul','Aug','Sep','Oct','Nov','Dec','2019','Feb','Mar','Apr','May','Jun','Jul','Aug','Sep','Oct','Nov','Dec','2020','','Mar','30'][indexof([2.25,23.25,45.25,67.25,86.25,107.25,127.25,148.25,167.25,190.25,210.25,232.25,255.25,275.25,298.25,320.25,339.25,360.25,380.25,401.25,420.25,443.25,462.25,485.25,507.25,528.25,551.25,572.25,592.25,613.25,633.25,653.25],datum.value)]","grid":true,"gridColor":"#e6e6e6","gridWidth":1,"domainColor":"#50535e","tickColor":"#50535e","tickSize":4,"labelPadding":5,"labelFont":"Liberation Sans","labelFontSize":10.5,"labelColor":{"condition":{"test":"datum.value==86.25||datum.value==339.25||datum.value==592.25","value":"#555555"},"value":"#808080"},"labelOverlap":false,"labelBound":false,"labelFlush":false}},
"y":{"field":"l","type":"quantitative","title":null,"scale":{"domain":[4244.1,7352.2],"nice":false,"zero":false,"round":true},"axis":{"orient":"right","values":[4300,4400,4500,4600,4700,4800,4900,5000,5100,5200,5300,5400,5500,5600,5700,5800,5900,6000,6100,6200,6300,6400,6500,6600,6700,6800,6900,7000,7100,7200,7300],"tickCount":60,"format":".1f","grid":true,"gridColor":"#e6e6e6","gridWidth":1,"domainColor":"#50535e","tickColor":"#50535e","tickSize":4,"labelPadding":6,"labelFont":"Liberation Sans","labelFontSize":10.5,"labelColor":"#707070","labelOverlap":false,"labelBound":false}},
"y2":{"field":"h"}}},
{"data":{"name":"bars"},"mark":{"type":"bar","orient":"vertical","size":2,"strokeWidth":1,"xOffset":0.5,"yOffset":0.5,"y2Offset":0.5},"encoding":{
"x":{"field":"i","type":"quantitative","scale":{"domain":[-0.64,654.4],"nice":false,"zero":false,"padding":0,"round":true}},
"y":{"field":"o","type":"quantitative","scale":{"domain":[4244.1,7352.2],"nice":false,"zero":false,"round":true}},
"y2":{"field":"c"},
"fill":{"condition":{"test":"datum.c>=datum.o","value":"#3d8b63"},"value":"#d3301f"},
"stroke":{"condition":{"test":"datum.c>=datum.o","value":"#1f5c3e"},"value":"#7a1f14"}}},
{"data":{"values":[{"i":610.2}]},"mark":{"type":"rule","color":"#888888","strokeDash":[4,4],"strokeWidth":1,"xOffset":0.5},"encoding":{"x":{"field":"i","type":"quantitative","scale":{"domain":[-0.64,654.4],"nice":false,"zero":false,"padding":0,"round":true}}}},
{"data":{"values":[{"v":5217.4}]},"mark":{"type":"rule","color":"#888888","strokeDash":[4,4],"strokeWidth":1,"yOffset":0.5},"encoding":{"y":{"field":"v","type":"quantitative","scale":{"domain":[4244.1,7352.2],"nice":false,"zero":false,"round":true}}}},
{"data":{"values":[{"v":4685.8}]},"mark":{"type":"rule","color":"#2e7d55","strokeDash":[2,2],"strokeWidth":1,"yOffset":0.5},"encoding":{"y":{"field":"v","type":"quantitative","scale":{"domain":[4244.1,7352.2],"nice":false,"zero":false,"round":true}}}},
{"data":{"values":[{"i":654.4,"v":4244.1,"w":4165.6}]},"mark":{"type":"rule","color":"#50535e","strokeWidth":1,"xOffset":0.5},"encoding":{"x":{"field":"i","type":"quantitative","scale":{"domain":[-0.64,654.4],"nice":false,"zero":false,"padding":0,"round":true}},"y":{"field":"v","type":"quantitative","scale":{"domain":[4244.1,7352.2],"nice":false,"zero":false,"round":true}},"y2":{"field":"w"}}},
{"data":{"values":[{"i":654.4,"j":666.7,"v":4244.1}]},"mark":{"type":"rule","color":"#50535e","strokeWidth":1,"yOffset":0.5},"encoding":{"x":{"field":"i","type":"quantitative","scale":{"domain":[-0.64,654.4],"nice":false,"zero":false,"padding":0,"round":true}},"x2":{"field":"j"},"y":{"field":"v","type":"quantitative","scale":{"domain":[4244.1,7352.2],"nice":false,"zero":false,"round":true}}}},
{"data":{"values":[{"a":654.6,"b":664.6,"v":5238.6,"w":5192.7,"c":"#4c525e"},{"a":651.0,"b":654.2,"v":5238.6,"w":5192.7,"c":"#4c525e"},{"a":654.6,"b":664.6,"v":4708.8,"w":4663.7,"c":"#6ba583"},{"a":654.6,"b":665.6,"v":4660.0,"w":4615.0,"c":"#6ba583"},{"a":604.1,"b":616.1,"v":4241.4,"w":4181.5,"c":"#4c525e"}]},"mark":{"type":"rect"},"encoding":{
"x":{"field":"a","type":"quantitative","scale":{"domain":[-0.64,654.4],"nice":false,"zero":false,"padding":0,"round":true}},"x2":{"field":"b"},
"y":{"field":"v","type":"quantitative","scale":{"domain":[4244.1,7352.2],"nice":false,"zero":false,"round":true}},"y2":{"field":"w"},
"fill":{"field":"c","type":"nominal","scale":null}}},
{"data":{"values":[{"i":659.6,"v":5217.4,"t":"5217.4"},{"i":659.6,"v":4685.8,"t":"4685.8"},{"i":660.1,"v":4637.5,"t":"03:18:28"},{"i":610.2,"v":4211,"t":"29 Jan '20"}]},"mark":{"type":"text","color":"#ffffff","font":"Liberation Sans","fontSize":11,"fontWeight":"bold","align":"center","baseline":"middle"},"encoding":{
"x":{"field":"i","type":"quantitative","scale":{"domain":[-0.64,654.4],"nice":false,"zero":false,"padding":0,"round":true}},
"y":{"field":"v","type":"quantitative","scale":{"domain":[4244.1,7352.2],"nice":false,"zero":false,"round":true}},"text":{"field":"t"}}},
{"data":{"values":[{"i":652.6,"v":5217.4,"t":"+"}]},"mark":{"type":"text","color":"#ffffff","font":"Liberation Sans","fontSize":20,"align":"center","baseline":"middle"},"encoding":{
"x":{"field":"i","type":"quantitative","scale":{"domain":[-0.64,654.4],"nice":false,"zero":false,"padding":0,"round":true}},
"y":{"field":"v","type":"quantitative","scale":{"domain":[4244.1,7352.2],"nice":false,"zero":false,"round":true}},"text":{"field":"t"}}},
{"data":{"values":[{"i":1.26,"v":7298,"t":"S&P/ASX 200 Index · 1D · ASX"}]},"mark":{"type":"text","color":"#555555","font":"Liberation Sans","fontSize":13.5,"align":"left","baseline":"middle"},"encoding":{
"x":{"field":"i","type":"quantitative","scale":{"domain":[-0.64,654.4],"nice":false,"zero":false,"padding":0,"round":true}},
"y":{"field":"v","type":"quantitative","scale":{"domain":[4244.1,7352.2],"nice":false,"zero":false,"round":true}},"text":{"field":"t"}}},
{"data":{"values":[{"i":44.2,"v":7298,"t":"O6994.5"},{"i":55.2,"v":7298,"t":"H7046.8"},{"i":66,"v":7298,"t":"L6994.5"},{"i":76.4,"v":7298,"t":"C7031.5"},{"i":87.2,"v":7298,"t":"+37.0 (+0.53%)"}]},"mark":{"type":"text","color":"#2b6e4b","font":"Liberation Sans","fontSize":11.5,"align":"left","baseline":"middle"},"encoding":{
"x":{"field":"i","type":"quantitative","scale":{"domain":[-0.64,654.4],"nice":false,"zero":false,"padding":0,"round":true}},
"y":{"field":"v","type":"quantitative","scale":{"domain":[4244.1,7352.2],"nice":false,"zero":false,"round":true}},"text":{"field":"t"}}},
{"data":{"values":[{"i":642.5,"v":7298}]},"mark":{"type":"point","shape":"circle","filled":true,"size":200,"color":"#ffa55a","opacity":1},"encoding":{
"x":{"field":"i","type":"quantitative","scale":{"domain":[-0.64,654.4],"nice":false,"zero":false,"padding":0,"round":true}},
"y":{"field":"v","type":"quantitative","scale":{"domain":[4244.1,7352.2],"nice":false,"zero":false,"round":true}}}},
{"data":{"values":[{"i":642.5,"v":7297,"t":"!"}]},"mark":{"type":"text","color":"#ffffff","font":"Liberation Sans","fontSize":12,"fontWeight":"bold","align":"center","baseline":"middle"},"encoding":{
"x":{"field":"i","type":"quantitative","scale":{"domain":[-0.64,654.4],"nice":false,"zero":false,"padding":0,"round":true}},
"y":{"field":"v","type":"quantitative","scale":{"domain":[4244.1,7352.2],"nice":false,"zero":false,"round":true}},"text":{"field":"t"}}},
{"data":{"values":[{"i":645.2,"v":7298,"t":"Delayed"}]},"mark":{"type":"text","color":"#ff9800","font":"Liberation Sans","fontSize":11.5,"align":"left","baseline":"middle"},"encoding":{
"x":{"field":"i","type":"quantitative","scale":{"domain":[-0.64,654.4],"nice":false,"zero":false,"padding":0,"round":true}},
"y":{"field":"v","type":"quantitative","scale":{"domain":[4244.1,7352.2],"nice":false,"zero":false,"round":true}},"text":{"field":"t"}}},
{"data":{"values":[{"i":660.5,"v":4203.5,"t":"☼"}]},"mark":{"type":"text","color":"#222222","font":"DejaVu Sans","fontSize":20,"align":"center","baseline":"middle"},"encoding":{
"x":{"field":"i","type":"quantitative","scale":{"domain":[-0.64,654.4],"nice":false,"zero":false,"padding":0,"round":true}},
"y":{"field":"v","type":"quantitative","scale":{"domain":[4244.1,7352.2],"nice":false,"zero":false,"round":true}},"text":{"field":"t"}}}
]}
